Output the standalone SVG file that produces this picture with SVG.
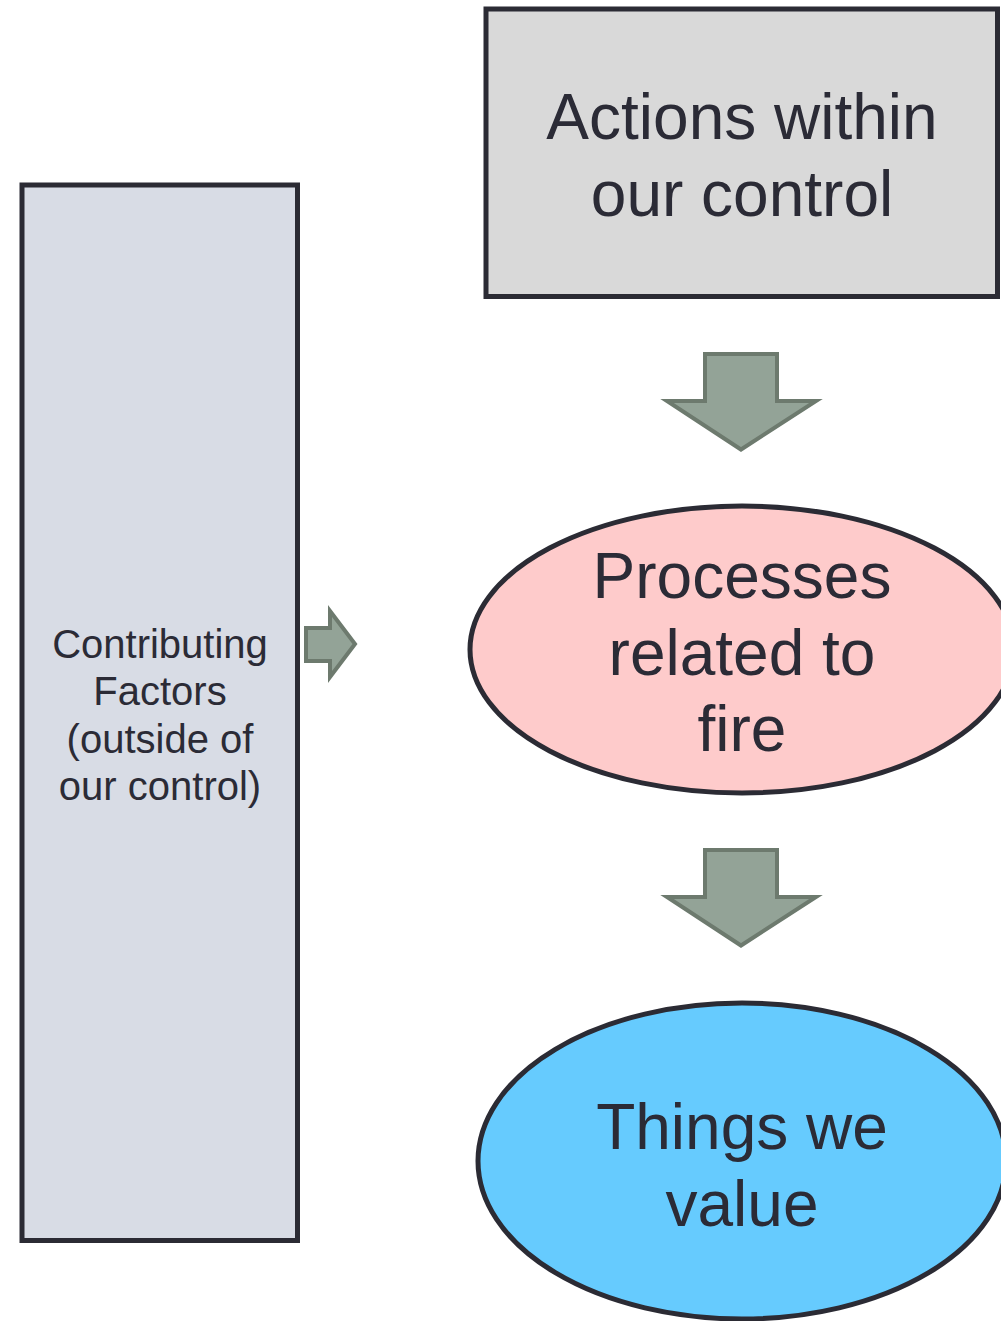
<svg xmlns="http://www.w3.org/2000/svg" width="1001" height="1321" viewBox="0 0 1001 1321">
  <style>
    .box { stroke: #2b2b34; stroke-width: 5; }
    .label { font-family: "Liberation Sans", Arial, sans-serif; fill: #2b2b36; text-anchor: middle; }
    .big { font-size: 64px; }
    .small { font-size: 40px; }
    .arrow { fill: #93a397; stroke: #6d7a6e; stroke-width: 4; stroke-linejoin: miter; stroke-miterlimit: 6; }
  </style>
  <defs>
    <!-- block arrow pointing down, drawn at its first position -->
    <path id="downArrow" d="M705,354 H777 V401 H816 L741,449.5 L667,401 H705 Z"/>
  </defs>
  <rect width="1001" height="1321" fill="#ffffff"/>

  <g id="contributing-factors">
    <rect class="box" x="22" y="185" width="275.5" height="1055.5" fill="#d8dce5"/>
    <text class="label small" x="160" y="658">Contributing</text>
    <text class="label small" x="160" y="705">Factors</text>
    <text class="label small" x="160" y="753">(outside of</text>
    <text class="label small" x="160" y="800">our control)</text>
  </g>

  <g id="actions">
    <rect class="box" x="486" y="9" width="511.5" height="287.5" fill="#d9d9d9"/>
    <text class="label big" x="742" y="139">Actions within</text>
    <text class="label big" x="742" y="216">our control</text>
  </g>

  <g id="processes">
    <ellipse class="box" cx="742" cy="649.5" rx="272" ry="143.5" fill="#fecbcb"/>
    <text class="label big" x="742" y="598">Processes</text>
    <text class="label big" x="742" y="675">related to</text>
    <text class="label big" x="742" y="751">fire</text>
  </g>

  <g id="values">
    <ellipse class="box" cx="742" cy="1161" rx="264" ry="158" fill="#66cbfe"/>
    <text class="label big" x="742" y="1149">Things we</text>
    <text class="label big" x="742" y="1226">value</text>
  </g>

  <g id="connectors">
    <use href="#downArrow" class="arrow"/>
    <use href="#downArrow" class="arrow" transform="translate(0,496)"/>
    <path class="arrow" d="M306,628 H330 V611 L355,644 L330,677 V661 H306 Z"/>
  </g>
</svg>
